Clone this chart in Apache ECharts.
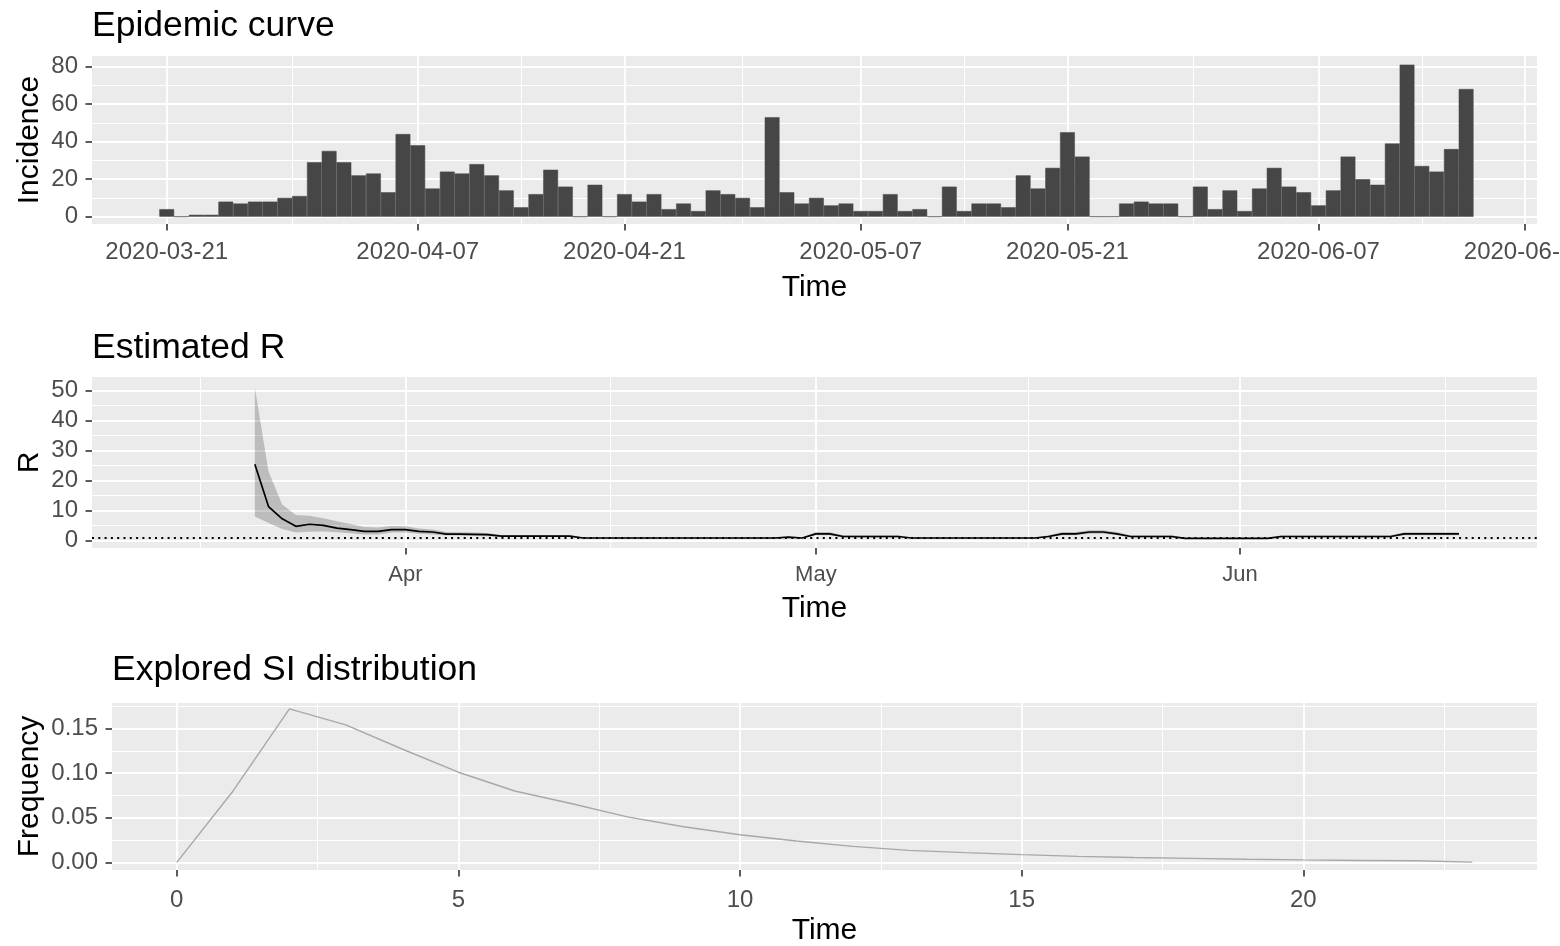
<!DOCTYPE html>
<html><head><meta charset="utf-8">
<script src="https://cdn.jsdelivr.net/npm/echarts@6/dist/echarts.min.js"></script>
<style>html,body{margin:0;padding:0;background:#fff}#c{width:1560px;height:946px}</style>
</head><body><div id="c"></div>
<script>
// ---------------- data ----------------
const incidenceStart = '2020-03-21';
const incidence = [4,0,1,1,8,7,8,8,10,11,
  29,35,29,22,23,13,44,38,15,24,
  23,28,22,14,5,12,25,16,0,17,
  0,12,8,12,4,7,3,14,12,10,
  5,53,13,7,10,6,7,3,3,12,
  3,4,0,16,3,7,7,5,22,15,
  26,45,32,0,0,7,8,7,7,0,
  16,4,14,3,15,26,16,13,6,14,
  32,20,17,39,81,27,24,36,68];
const rStart = '2020-03-21';
const rMean = [25.4,11.3,7.2,4.7,5.4,5.0,4.1,3.6,3.0,3.0,
  3.6,3.6,3.0,2.8,2.1,2.1,2.0,1.9,1.4,1.4,
  1.4,1.4,1.4,1.4,0.8,0.8,0.8,0.8,0.8,0.8,
  0.8,0.8,0.8,0.8,0.8,0.8,0.8,0.8,0.8,1.1,
  0.8,2.2,2.2,1.3,1.3,1.3,1.3,1.3,0.8,0.8,
  0.8,0.8,0.8,0.8,0.8,0.8,0.8,0.8,1.3,2.2,
  2.2,2.8,2.8,2.2,1.3,1.3,1.3,1.3,0.7,0.7,
  0.7,0.7,0.7,0.7,0.7,1.3,1.3,1.3,1.3,1.3,
  1.3,1.3,1.3,1.3,2.2,2.2,2.2,2.2,2.2];
const rLower = [8.0,5.8,3.8,2.6,2.9,3.0,2.7,2.4,2.0,2.0,
  2.6,2.6,2.2,2.0,1.6,1.6,1.5,1.4,1.1,1.1,
  1.1,1.1,1.1,1.1,0.6,0.6,0.6,0.6,0.6,0.6,
  0.6,0.6,0.6,0.6,0.6,0.6,0.6,0.6,0.6,0.8,
  0.6,1.7,1.7,1.0,1.0,1.0,1.0,1.0,0.6,0.6,
  0.6,0.6,0.6,0.6,0.6,0.6,0.6,0.6,1.0,1.7,
  1.7,2.2,2.2,1.7,1.0,1.0,1.0,1.0,0.5,0.5,
  0.5,0.5,0.5,0.5,0.5,1.0,1.0,1.0,1.0,1.0,
  1.0,1.0,1.0,1.0,1.7,1.7,1.7,1.7,1.7];
const rUpper = [51,23,12,8.5,8.2,7.4,6.4,5.5,4.5,4.3,
  4.8,4.7,4.0,3.6,2.8,2.7,2.6,2.5,1.8,1.8,
  1.8,1.8,1.8,1.8,1.0,1.0,1.0,1.0,1.0,1.0,
  1.0,1.0,1.0,1.0,1.0,1.0,1.0,1.0,1.0,1.4,
  1.0,2.8,2.8,1.7,1.7,1.7,1.7,1.7,1.0,1.0,
  1.0,1.0,1.0,1.0,1.0,1.0,1.0,1.0,1.7,2.8,
  2.8,3.4,3.4,2.8,1.7,1.7,1.7,1.7,0.9,0.9,
  0.9,0.9,0.9,0.9,0.9,1.6,1.6,1.6,1.6,1.6,
  1.6,1.6,1.6,1.6,2.7,2.7,2.7,2.7,2.7];
const siTime = [0,1,2,3,4,5,6,7,8,9,10,11,12,13,14,15,16,17,18,19,20,21,22,23];
const siFreq = [0,0.080,0.172,0.154,0.127,0.101,0.080,0.066,0.051,0.040,0.031,0.024,
  0.018,0.0135,0.011,0.0087,0.0068,0.0055,0.0045,0.0035,0.0028,0.0022,0.0018,0.0003];

// tick labels / breaks
const epiTicks = ['2020-03-21','2020-04-07','2020-04-21','2020-05-07','2020-05-21','2020-06-07','2020-06-21'];
const epiMinor = ['2020-03-29 12','2020-04-14','2020-04-29','2020-05-14','2020-05-29 12','2020-06-14'];
const incYTicks = [0,20,40,60,80];
const incYMinor = [10,30,50,70];
const rXTicks = ['2020-04-01','2020-05-01','2020-06-01'];
const rXLabels = ['Apr','May','Jun'];
const rXMinor = ['2020-03-17','2020-04-16','2020-05-16 12','2020-06-16'];
const rYTicks = [0,10,20,30,40,50];
const rYMinor = [5,15,25,35,45];
const siXTicks = [0,5,10,15,20];
const siXMinor = [2.5,7.5,12.5,17.5,22.5];
const siYTicks = [0,0.05,0.10,0.15];
const siYMinor = [0.025,0.075,0.125,0.175];

// ---------------- helpers ----------------
const DAY = 86400000;
const FONT = '"Liberation Sans", Arial, Helvetica, sans-serif';
function toT(s){ const p = s.split(' '); const d = p[0].split('-').map(Number); const h = p[1] ? Number(p[1]) : 0; return Date.UTC(d[0], d[1]-1, d[2], h); }
function dayList(start, n){ const t0 = toT(start); const out = []; for (let i=0;i<n;i++) out.push(t0 + i*DAY); return out; }
function fmtDate(v){ return new Date(v).toISOString().slice(0,10); }

const incDates = dayList(incidenceStart, incidence.length);
const rDates = dayList(rStart, rMean.length);

function majorAxis(dim, gi, min, max, ticks, fmt, labelSize, margin, name, nameGap){
  const ax = {
    type:'value', gridIndex: gi, min, max, scale:true,
    axisLine: {show:false, onZero:false},
    axisTick: {show:true, length:6.5, lineStyle:{color:'#333333', width:1.6}, customValues: ticks},
    axisLabel: {show:true, customValues: ticks, formatter: fmt, color:'#4D4D4D', fontSize: labelSize, fontFamily: FONT, margin},
    splitLine: {show:true, lineStyle:{color:'#ffffff', width:1.8}},
    name, nameLocation:'middle', nameGap, nameMoveOverlap:false,
    nameTextStyle: {color:'#000', fontSize:30, fontFamily: FONT}
  };
  if (dim === 'y') ax.nameRotate = 90;
  return ax;
}
function minorAxis(gi, min, max, ticks){
  return {type:'value', gridIndex: gi, min, max, scale:true,
    axisLine:{show:false, onZero:false}, axisTick:{show:false, customValues: ticks}, axisLabel:{show:false},
    splitLine:{show:true, lineStyle:{color:'#ffffff', width:1.1}}};
}

const epiMin = toT('2020-03-21') - 5.06*DAY, epiMax = toT('2020-03-21') + 92.8*DAY;
const rMin = toT('2020-04-01') - 22.9*DAY, rMax = toT('2020-04-01') + 82.7*DAY;

const epiTickT = epiTicks.map(toT), epiMinorT = epiMinor.map(toT);
const rXTickT = rXTicks.map(toT), rXMinorT = rXMinor.map(toT);

const titleStyle = {fontSize:35.5, fontWeight:'normal', color:'#000', fontFamily: FONT};
const gridBase = {show:true, backgroundColor:'#EBEBEB', borderWidth:0, containLabel:false, outerBoundsMode:'none'};

const option = {
  animation: false,
  backgroundColor: '#ffffff',
  title: [
    {text:'Epidemic curve', left:92, top:8, padding:0, textStyle: titleStyle},
    {text:'Estimated R', left:92, top:330, padding:0, textStyle: titleStyle},
    {text:'Explored SI distribution', left:112, top:652, padding:0, textStyle: titleStyle}
  ],
  grid: [
    Object.assign({left:92, top:56, width:1445, height:168}, gridBase),
    Object.assign({left:92, top:377, width:1445, height:171}, gridBase),
    Object.assign({left:112, top:703, width:1425, height:167}, gridBase)
  ],
  xAxis: [
    majorAxis('x', 0, epiMin, epiMax, epiTickT, v => fmtDate(v), 24, 16, 'Time', 49),
    minorAxis(0, epiMin, epiMax, epiMinorT),
    majorAxis('x', 1, rMin, rMax, rXTickT, v => { const i = rXTickT.indexOf(v); return i >= 0 ? rXLabels[i] : ''; }, 22, 16, 'Time', 46),
    minorAxis(1, rMin, rMax, rXMinorT),
    majorAxis('x', 2, -1.15, 24.15, siXTicks, v => String(v), 24, 18, 'Time', 46),
    minorAxis(2, -1.15, 24.15, siXMinor)
  ],
  yAxis: [
    majorAxis('y', 0, -3.9, 85.6, incYTicks, v => String(v), 24, 14, 'Incidence', 47),
    minorAxis(0, -3.9, 85.6, incYMinor),
    majorAxis('y', 1, -2.53, 54.5, rYTicks, v => String(v), 24, 14, 'R', 47),
    minorAxis(1, -2.53, 54.5, rYMinor),
    majorAxis('y', 2, -0.0085, 0.1785, siYTicks, v => v.toFixed(2), 24, 14, 'Frequency', 67),
    minorAxis(2, -0.0085, 0.1785, siYMinor)
  ],
  series: [
    {type:'bar', xAxisIndex:0, yAxisIndex:0, silent:true,
      data: incDates.map((t,i) => [t, incidence[i]]),
      barCategoryGap:'0%',
      itemStyle:{color:'#464646', borderColor:'#464646', borderWidth:0.5}},
    {type:'custom', xAxisIndex:2, yAxisIndex:2, silent:true,
      data: [[rDates[0], rUpper[0]]],
      renderItem: function(params, api){
        const pts = [];
        for (let i = 0; i < rDates.length; i++) pts.push(api.coord([rDates[i], rUpper[i]]));
        for (let i = rDates.length - 1; i >= 0; i--) pts.push(api.coord([rDates[i], rLower[i]]));
        return {type:'polygon', shape:{points: pts}, style:{fill:'rgba(0,0,0,0.2)', stroke:null}};
      }},
    {type:'line', xAxisIndex:2, yAxisIndex:2, silent:true, symbol:'none', z:3,
      data: rDates.map((t,i) => [t, rMean[i]]),
      lineStyle:{color:'#000000', width:1.7},
      markLine:{silent:true, symbol:'none', label:{show:false},
        lineStyle:{color:'#000000', width:1.8, type:[2,4.3]},
        data:[{yAxis:1}]}},
    {type:'line', xAxisIndex:4, yAxisIndex:4, silent:true, symbol:'none',
      data: siTime.map((x,i) => [x, siFreq[i]]),
      lineStyle:{color:'#A8A8A8', width:1.4}}
  ]
};
const chart = echarts.init(document.getElementById('c'), null, {renderer:'canvas'});
chart.setOption(option);
</script>
</body></html>
